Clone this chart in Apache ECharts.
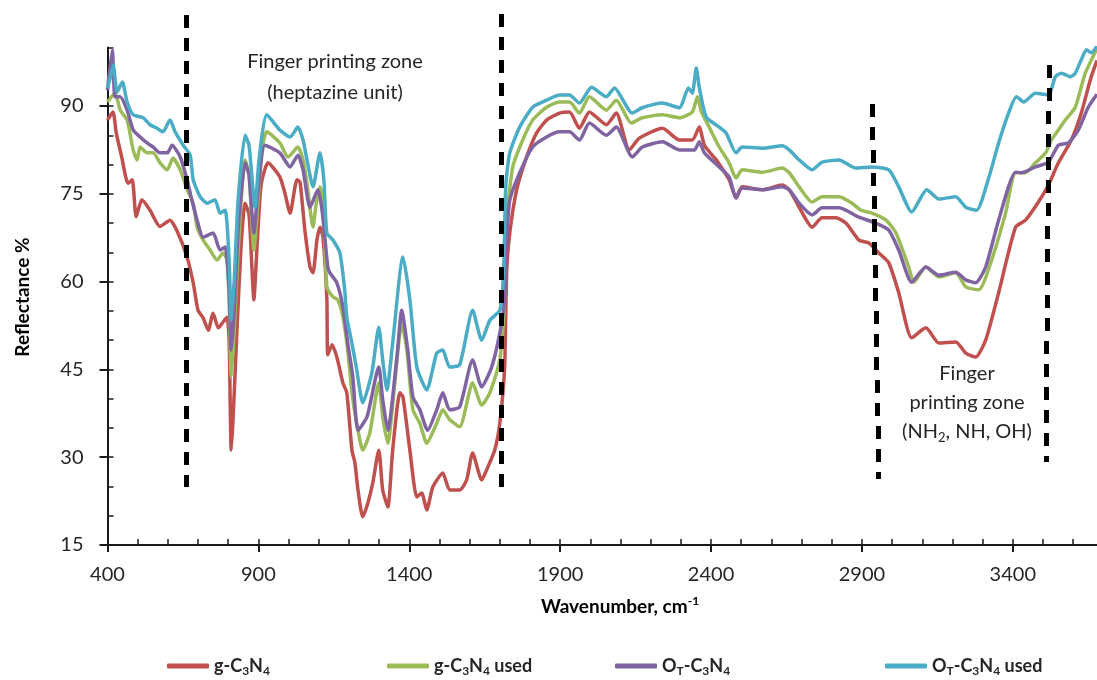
<!DOCTYPE html>
<html>
<head>
<meta charset="utf-8">
<title>Reflectance spectra</title>
<script src="https://cdn.jsdelivr.net/npm/echarts@6/dist/echarts.min.js"></script>
<style>
  html, body { margin: 0; padding: 0; background: #ffffff; }
  #chart { width: 1097px; height: 680px; }
</style>
</head>
<body>
<div id="chart"></div>
<script>
// Series names (legend text adds the subscripts)
const seriesNames = ['g-C3N4', 'g-C3N4 used', 'OT-C3N4', 'OT-C3N4 used'];
const seriesColors = ['#C0504D', '#9BBB59', '#8064A2', '#4BACC6'];

// [wavenumber (cm-1), reflectance (%)]
const gC3N4 = [[400,87.6],[418,89.0],[429,85.4],[447,81.3],[468,76.8],[482,77.4],[495,71.1],[514,74.0],[541,72.2],[574,69.4],[607,70.5],[629,68.8],[663,64.3],[684,59.8],[700,55.1],[717,53.8],[734,51.7],[750,54.6],[767,52.1],[783,53.1],[796,53.9],[803,50.0],[810,31.2],[816,36.4],[829,51.7],[842,65.4],[856,73.4],[869,71.4],[879,62.0],[885,56.9],[895,65.4],[909,76.5],[932,80.3],[971,77.9],[988,75.1],[1005,71.7],[1028,77.4],[1038,77.0],[1054,68.8],[1071,62.5],[1081,61.5],[1094,67.1],[1104,69.3],[1114,67.6],[1127,56.9],[1130,47.5],[1144,49.2],[1160,47.1],[1180,42.7],[1193,41.0],[1210,31.2],[1220,29.0],[1230,24.4],[1246,19.8],[1263,22.2],[1279,25.6],[1299,31.2],[1312,24.4],[1329,21.5],[1345,31.2],[1369,41.0],[1379,40.3],[1402,31.2],[1425,23.2],[1441,23.9],[1458,21.0],[1478,24.9],[1511,27.3],[1534,24.4],[1567,24.4],[1590,26.1],[1610,30.7],[1640,26.1],[1656,27.8],[1683,31.2],[1700,35.8],[1716,45.4],[1723,62.0],[1733,68.3],[1756,75.7],[1789,81.3],[1822,85.4],[1855,87.6],[1898,88.8],[1931,89.0],[1964,86.2],[1997,89.0],[2053,86.8],[2086,88.8],[2129,82.5],[2162,84.5],[2239,86.2],[2295,84.2],[2338,84.2],[2361,86.4],[2378,83.3],[2417,80.8],[2460,77.4],[2483,74.3],[2503,76.2],[2571,75.7],[2636,76.5],[2659,75.7],[2692,72.7],[2735,69.3],[2768,70.9],[2814,70.9],[2847,70.0],[2890,67.1],[2923,66.6],[2956,64.9],[2989,63.2],[3022,58.1],[3065,50.4],[3112,52.1],[3155,49.5],[3211,49.7],[3244,47.8],[3277,47.1],[3310,50.0],[3353,58.1],[3409,69.3],[3442,70.5],[3485,73.6],[3518,76.5],[3551,80.3],[3594,84.2],[3627,88.8],[3657,94.5],[3679,97.8]];

const gC3N4Used = [[400,90.7],[425,92.2],[442,89.3],[465,87.6],[485,82.5],[498,80.8],[508,83.0],[531,82.0],[551,82.0],[574,80.3],[598,79.1],[617,81.1],[641,79.1],[664,75.7],[684,73.4],[697,69.3],[717,67.1],[740,65.4],[763,63.7],[783,64.9],[796,63.7],[803,56.9],[810,43.7],[820,51.7],[833,65.4],[856,80.8],[869,78.2],[885,65.4],[899,74.0],[912,82.5],[928,85.6],[971,83.7],[998,81.3],[1031,83.0],[1048,80.8],[1061,76.8],[1081,69.3],[1091,73.1],[1104,76.2],[1114,74.0],[1127,59.1],[1147,57.4],[1163,56.9],[1180,54.0],[1196,48.3],[1210,41.0],[1226,35.8],[1246,31.2],[1269,34.1],[1299,42.7],[1312,36.9],[1329,32.4],[1352,42.7],[1375,52.9],[1392,48.3],[1412,38.1],[1435,35.8],[1458,32.4],[1491,35.8],[1511,38.1],[1534,36.4],[1567,35.2],[1610,42.7],[1640,38.9],[1667,41.0],[1700,46.6],[1716,56.9],[1723,70.5],[1743,79.6],[1776,84.2],[1809,87.6],[1855,89.8],[1898,90.7],[1931,90.7],[1964,88.8],[1997,91.6],[2053,89.3],[2086,91.0],[2136,87.1],[2172,88.0],[2239,88.5],[2295,88.0],[2338,89.0],[2355,91.6],[2368,89.0],[2394,86.4],[2427,83.0],[2460,80.3],[2483,77.7],[2503,79.1],[2571,78.7],[2636,79.4],[2659,78.6],[2692,76.2],[2735,73.6],[2768,74.5],[2824,74.5],[2867,73.4],[2897,72.2],[2933,71.7],[2980,70.5],[3013,68.3],[3055,62.5],[3072,59.9],[3112,62.5],[3155,60.8],[3211,61.5],[3244,59.1],[3287,58.6],[3330,63.7],[3376,71.7],[3409,78.6],[3442,78.6],[3475,80.3],[3509,82.0],[3528,84.2],[3551,85.9],[3574,87.6],[3607,89.8],[3640,95.6],[3679,99.8]];

const otC3N4 = [[400,92.7],[416,99.6],[425,91.6],[442,91.6],[465,89.3],[485,85.9],[508,84.7],[531,83.7],[551,83.0],[574,82.0],[598,82.0],[614,83.3],[641,81.3],[664,77.4],[674,75.1],[697,70.5],[717,67.6],[750,68.3],[773,65.4],[790,65.9],[803,58.6],[810,48.3],[820,55.1],[833,68.8],[856,80.3],[869,78.2],[885,68.3],[899,75.7],[922,83.3],[971,82.0],[1005,79.6],[1031,81.6],[1048,79.1],[1071,72.7],[1097,75.7],[1111,72.2],[1130,62.5],[1137,61.5],[1160,59.8],[1180,55.7],[1196,49.5],[1213,43.7],[1230,34.6],[1260,36.9],[1299,45.4],[1312,39.8],[1329,34.6],[1359,47.1],[1375,55.1],[1395,48.3],[1412,40.3],[1435,38.1],[1461,34.6],[1491,38.1],[1511,41.0],[1534,38.1],[1567,38.6],[1610,46.6],[1640,42.0],[1673,45.4],[1700,51.2],[1716,56.9],[1723,67.1],[1733,73.9],[1766,78.6],[1809,83.0],[1855,84.7],[1898,85.6],[1931,85.6],[1964,84.2],[1997,87.1],[2053,85.0],[2086,86.4],[2139,81.3],[2172,83.0],[2239,83.9],[2295,82.5],[2345,82.5],[2361,83.9],[2378,82.0],[2427,79.6],[2460,77.9],[2483,74.3],[2503,76.0],[2571,75.7],[2636,76.2],[2659,75.7],[2692,73.4],[2735,71.4],[2768,72.6],[2824,72.6],[2890,71.0],[2946,70.0],[2989,68.8],[3022,65.4],[3065,59.9],[3112,62.5],[3155,61.1],[3211,61.6],[3244,60.3],[3277,59.8],[3310,62.5],[3353,70.5],[3409,78.7],[3429,78.6],[3475,79.6],[3518,80.4],[3551,83.3],[3584,83.7],[3617,85.9],[3650,89.8],[3679,92.0]];

const otC3N4Used = [[400,93.1],[409,94.8],[419,97.0],[432,92.4],[449,94.1],[465,90.7],[485,88.5],[518,88.0],[541,86.8],[564,86.2],[584,85.6],[607,87.6],[624,85.6],[651,83.3],[674,81.6],[684,77.4],[707,74.5],[730,73.4],[756,74.0],[773,71.7],[790,72.2],[803,63.7],[810,53.4],[820,60.3],[833,74.0],[856,85.0],[869,83.3],[889,72.7],[902,80.8],[928,88.5],[971,85.9],[1005,84.7],[1031,86.4],[1048,84.2],[1061,80.8],[1081,76.2],[1104,82.0],[1117,77.4],[1127,68.3],[1147,67.1],[1170,64.9],[1186,58.6],[1193,53.9],[1210,49.5],[1226,44.9],[1246,39.3],[1276,44.4],[1299,52.2],[1312,46.6],[1326,41.5],[1345,49.5],[1379,64.2],[1402,56.9],[1425,45.4],[1458,41.5],[1491,47.8],[1511,48.3],[1534,45.4],[1567,45.8],[1610,55.1],[1640,50.0],[1667,53.4],[1700,55.1],[1712,61.0],[1720,76.5],[1733,82.0],[1766,86.4],[1809,89.8],[1855,91.0],[1898,91.9],[1931,91.9],[1964,90.5],[2004,93.2],[2053,91.6],[2080,93.1],[2139,88.8],[2172,89.7],[2239,90.5],[2295,89.7],[2325,93.1],[2338,92.2],[2351,96.5],[2361,93.2],[2384,88.1],[2427,86.4],[2450,85.4],[2483,82.0],[2503,83.0],[2571,82.8],[2636,83.2],[2659,82.5],[2692,80.8],[2735,79.1],[2768,80.4],[2824,80.8],[2880,79.4],[2933,79.6],[2989,79.1],[3022,76.2],[3065,71.9],[3115,75.7],[3155,74.1],[3211,74.5],[3244,72.7],[3280,72.2],[3320,77.7],[3353,83.7],[3386,88.8],[3412,91.6],[3436,90.7],[3475,92.2],[3518,91.9],[3541,95.0],[3561,95.6],[3591,95.0],[3607,95.6],[3627,97.9],[3644,99.6],[3660,99.1],[3679,100.2]];

// Dashed zone boundaries, [wavenumber, reflectance] end points
const zoneBoundaries = [
  [[661, 105.5], [661, 24.9]],
  [[1707, 105.7], [1707, 24.4]],
  [[2935, 90.4], [2956, 26.4]],
  [[3521, 97.0], [3510, 29.2]]
];

// Axis ticks
const xLabelTicks = [400, 900, 1400, 1900, 2400, 2900, 3400];
const xMinorTicks = [400, 500, 600, 700, 800, 900, 1000, 1100, 1200, 1300, 1400, 1500, 1600, 1700, 1800, 1900, 2000, 2100, 2200, 2300, 2400, 2500, 2600, 2700, 2800, 2900, 3000, 3100, 3200, 3300, 3400, 3500, 3600];
const yLabelTicks = [15, 30, 45, 60, 75, 90];
const yMinorTicks = [15, 20, 25, 30, 35, 40, 45, 50, 55, 60, 65, 70, 75, 80, 85, 90, 95, 100];

const seriesData = [gC3N4, gC3N4Used, otC3N4, otC3N4Used];
const legendLeft = [162, 382, 610, 880];

const FONT = 'Lato, "Open Sans", sans-serif';
const TEXT = '#262626';
const AXIS = '#1a1a1a';
const DASH = 13;
const GAP = 10;
const DASH_WIDTH = 5;

const legendRich = {
  m: { fontFamily: FONT, fontWeight: 'bold', fontSize: 18, lineHeight: 22, color: TEXT },
  s: { fontFamily: FONT, fontWeight: 'bold', fontSize: 12, lineHeight: 14, verticalAlign: 'bottom', color: TEXT }
};
function legendText(name) {
  const used = name.endsWith(' used') ? ' used' : '';
  if (name.startsWith('OT')) return '{m|O}{s|T}{m|-C}{s|3}{m|N}{s|4}' + (used ? '{m|' + used + '}' : '');
  return '{m|g-C}{s|3}{m|N}{s|4}' + (used ? '{m|' + used + '}' : '');
}
const plainNumber = (v) => String(v);

// visible part of the wavenumber axis
const xRange = { min: 400, max: 3679 };
const yRange = { min: 15, max: 100 };

const textItems = [
  { type: 'text', x: 335, y: 62, style: { text: 'Finger printing zone', fontFamily: FONT, fontSize: 20, fill: TEXT, align: 'center', verticalAlign: 'middle' } },
  { type: 'text', x: 335, y: 93, style: { text: '(heptazine unit)', fontFamily: FONT, fontSize: 20, fill: TEXT, align: 'center', verticalAlign: 'middle' } },
  { type: 'text', x: 967, y: 374, style: { text: 'Finger', fontFamily: FONT, fontSize: 20, fill: TEXT, align: 'center', verticalAlign: 'middle' } },
  { type: 'text', x: 967, y: 403, style: { text: 'printing zone', fontFamily: FONT, fontSize: 20, fill: TEXT, align: 'center', verticalAlign: 'middle' } },
  { type: 'text', x: 967, y: 432, style: {
      text: '{m|(NH}{s|2}{m|, NH, OH)}', align: 'center', verticalAlign: 'middle',
      rich: {
        m: { fontFamily: FONT, fontSize: 20, lineHeight: 24, fill: TEXT },
        s: { fontFamily: FONT, fontSize: 13, lineHeight: 14, verticalAlign: 'bottom', fill: TEXT }
      }
    } },
  { type: 'text', x: 23, y: 297, rotation: Math.PI / 2, style: { text: 'Reflectance %', fontFamily: FONT, fontWeight: 'bold', fontSize: 19, fill: '#000000', align: 'center', verticalAlign: 'middle' } },
  { type: 'text', x: 620, y: 607, style: {
      text: '{b|Wavenumber, cm}{p|-1}', align: 'center', verticalAlign: 'middle',
      rich: {
        b: { fontFamily: FONT, fontWeight: 'bold', fontSize: 19, lineHeight: 24, fill: '#000000' },
        p: { fontFamily: FONT, fontWeight: 'bold', fontSize: 12, lineHeight: 12, verticalAlign: 'top', fill: '#000000' }
      }
    } }
];

const option = {
  backgroundColor: '#ffffff',
  animation: false,
  grid: { left: 107.5, top: 47.5, right: 0, height: 497.5, containLabel: false },
  xAxis: [
    {
      type: 'value', ...xRange, position: 'bottom',
      axisLine: { show: true, lineStyle: { color: AXIS, width: 2 } },
      axisTick: { show: true, inside: true, length: 6, customValues: xMinorTicks, lineStyle: { color: AXIS, width: 1.5 } },
      axisLabel: { show: true, customValues: xLabelTicks, formatter: plainNumber, margin: 20, fontFamily: FONT, fontSize: 20, color: TEXT },
      splitLine: { show: false }
    },
    {
      type: 'value', ...xRange, position: 'bottom',
      axisLine: { show: false },
      axisTick: { show: true, inside: false, length: 7, customValues: xLabelTicks, lineStyle: { color: AXIS, width: 2 } },
      axisLabel: { show: false },
      splitLine: { show: false }
    }
  ],
  yAxis: [
    {
      type: 'value', ...yRange, position: 'left',
      axisLine: { show: true, lineStyle: { color: AXIS, width: 2 } },
      axisTick: { show: true, inside: true, length: 6, customValues: yMinorTicks, lineStyle: { color: AXIS, width: 1.5 } },
      axisLabel: { show: true, customValues: yLabelTicks, formatter: plainNumber, margin: 24, fontFamily: FONT, fontSize: 20, color: TEXT },
      splitLine: { show: false }
    },
    {
      type: 'value', ...yRange, position: 'left',
      axisLine: { show: false },
      axisTick: { show: true, inside: false, length: 8, customValues: yLabelTicks, lineStyle: { color: AXIS, width: 2 } },
      axisLabel: { show: false },
      splitLine: { show: false }
    }
  ],
  legend: seriesNames.map((name, i) => ({
    data: [name],
    left: legendLeft[i],
    top: 652,
    icon: 'roundRect',
    itemWidth: 42,
    itemHeight: 5,
    itemGap: 0,
    selectedMode: false,
    formatter: legendText,
    textStyle: { rich: legendRich }
  })),
  series: seriesNames.map((name, i) => ({
    name: name,
    type: 'line',
    xAxisIndex: 0,
    yAxisIndex: 0,
    data: seriesData[i],
    showSymbol: false,
    smooth: 0.2,
    color: seriesColors[i],
    lineStyle: { width: 3.5, color: seriesColors[i] },
    z: 2 + i
  })),
  graphic: textItems
};

const chart = echarts.init(document.getElementById('chart'), null, { renderer: 'canvas' });
chart.setOption(option);

// Dashed zone boundaries: end points go through the chart's coordinate system;
// each dash is an upright block centred on the boundary so slanted ones stay crisp.
const boundaryDashes = [];
zoneBoundaries.forEach((seg) => {
  const p1 = chart.convertToPixel({ gridIndex: 0 }, seg[0]);
  const p2 = chart.convertToPixel({ gridIndex: 0 }, seg[1]);
  const dx = p2[0] - p1[0];
  const dy = p2[1] - p1[1];
  for (let s = 0; s < dy; s += DASH + GAP) {
    const e = Math.min(s + DASH, dy);
    const cx = Math.round(p1[0] + dx * ((s + e) / 2) / dy - DASH_WIDTH / 2);
    boundaryDashes.push({
      type: 'rect',
      z: 100,
      silent: true,
      shape: { x: cx, y: Math.round(p1[1] + s), width: DASH_WIDTH, height: Math.round(e - s) },
      style: { fill: '#000000' }
    });
  }
});
chart.setOption({ graphic: textItems.concat(boundaryDashes) });
</script>
</body>
</html>
